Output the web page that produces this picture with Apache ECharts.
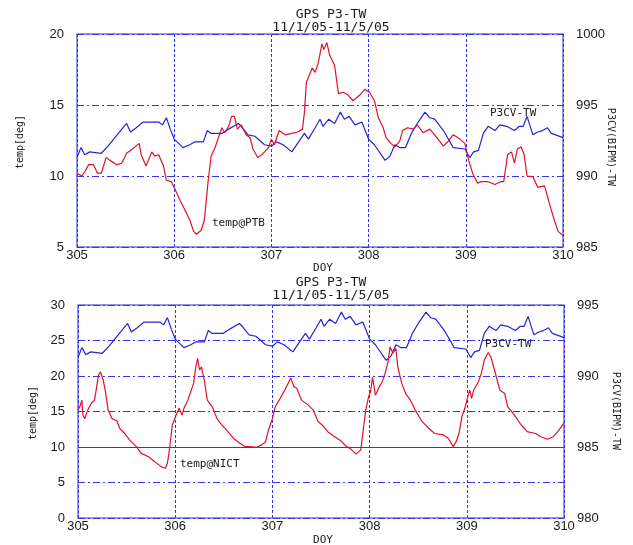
<!DOCTYPE html>
<html>
<head>
<meta charset="utf-8">
<script src="https://cdn.jsdelivr.net/npm/echarts@6/dist/echarts.min.js"></script>
<style>
html,body{margin:0;padding:0;background:#fff;}
#c{width:633px;height:545px;}
</style>
</head>
<body>
<div id="c"></div>
<script>
// ---- data (DOY, value) ----
var xTicks = [305, 306, 307, 308, 309, 310];
var title1 = 'GPS P3-TW';
var title2 = '11/1/05-11/5/05';

// P3CV(BIPM)-TW, same series in both panels
var p3cv = [[305.00,991.3],[305.04,992.0],[305.08,991.5],[305.13,991.7],[305.25,991.6],[305.32,992.1],[305.39,992.7],[305.51,993.7],[305.55,993.1],[305.61,993.4],[305.68,993.8],[305.84,993.8],[305.88,993.6],[305.92,994.1],[305.96,993.3],[306.00,992.6],[306.09,992.0],[306.16,992.2],[306.21,992.4],[306.30,992.4],[306.34,993.2],[306.38,993.0],[306.49,993.0],[306.56,993.3],[306.66,993.7],[306.69,993.5],[306.76,992.9],[306.83,992.8],[306.93,992.2],[307.00,992.1],[307.05,992.4],[307.12,992.2],[307.21,991.7],[307.34,993.0],[307.38,992.6],[307.45,993.4],[307.50,994.0],[307.53,993.5],[307.59,994.0],[307.65,993.7],[307.71,994.5],[307.75,994.0],[307.80,994.2],[307.86,993.6],[307.93,993.8],[308.00,992.6],[308.06,992.2],[308.17,991.1],[308.22,991.4],[308.27,992.2],[308.32,992.0],[308.38,992.0],[308.44,993.0],[308.51,993.8],[308.58,994.5],[308.63,994.1],[308.68,994.0],[308.77,993.2],[308.87,992.0],[308.99,991.9],[309.04,991.3],[309.08,991.7],[309.13,991.8],[309.18,993.0],[309.23,993.5],[309.30,993.2],[309.35,993.6],[309.42,993.5],[309.50,993.2],[309.55,993.5],[309.59,993.5],[309.63,994.2],[309.69,992.9],[309.74,993.1],[309.79,993.2],[309.84,993.4],[309.88,993.0],[310.00,992.7]];

// temp@PTB
var tempPTB = [[305.00,10.2],[305.05,10.0],[305.08,10.3],[305.12,10.8],[305.17,10.8],[305.21,10.2],[305.25,10.2],[305.30,11.3],[305.34,11.1],[305.41,10.8],[305.46,10.9],[305.51,11.6],[305.57,11.9],[305.64,12.3],[305.66,11.5],[305.71,10.7],[305.77,11.7],[305.80,11.4],[305.84,11.5],[305.89,10.7],[305.92,9.7],[305.97,9.6],[306.01,9.05],[306.06,8.3],[306.11,7.6],[306.16,6.9],[306.20,6.1],[306.23,5.9],[306.28,6.2],[306.31,6.9],[306.35,9.7],[306.38,11.4],[306.42,12.0],[306.49,13.4],[306.52,13.05],[306.56,13.5],[306.59,14.2],[306.62,14.2],[306.65,13.3],[306.69,13.6],[306.74,12.9],[306.78,12.7],[306.81,11.9],[306.86,11.3],[306.90,11.5],[306.93,11.7],[306.97,12.0],[307.00,12.6],[307.03,12.2],[307.08,13.2],[307.14,12.9],[307.21,13.0],[307.27,13.1],[307.32,13.3],[307.34,14.5],[307.36,16.6],[307.39,17.1],[307.42,17.6],[307.45,17.3],[307.48,17.9],[307.52,19.3],[307.54,18.9],[307.57,19.4],[307.60,18.5],[307.65,17.8],[307.69,15.8],[307.74,15.9],[307.79,15.7],[307.84,15.3],[307.91,15.7],[307.96,16.1],[308.01,15.9],[308.06,15.3],[308.10,14.1],[308.15,13.4],[308.18,12.7],[308.23,12.3],[308.27,12.05],[308.32,12.45],[308.35,13.2],[308.40,13.4],[308.46,13.3],[308.50,13.6],[308.56,13.05],[308.63,13.3],[308.68,12.9],[308.77,12.1],[308.82,12.45],[308.87,12.9],[308.94,12.6],[308.99,12.3],[309.03,11.1],[309.07,10.2],[309.12,9.5],[309.16,9.6],[309.23,9.6],[309.30,9.4],[309.36,9.6],[309.39,9.6],[309.43,11.5],[309.47,11.7],[309.50,10.9],[309.53,11.9],[309.57,12.05],[309.60,11.5],[309.63,10.0],[309.69,9.95],[309.74,9.2],[309.81,9.3],[309.86,8.05],[309.91,6.9],[309.95,6.1],[310.00,5.8]];

// temp@NICT
var tempNICT = [[305.00,15.2],[305.02,15.7],[305.04,16.6],[305.05,14.5],[305.07,14.0],[305.10,15.2],[305.14,16.2],[305.17,16.6],[305.19,18.3],[305.21,20.1],[305.23,20.6],[305.26,19.4],[305.28,18.0],[305.31,15.2],[305.35,14.0],[305.40,13.7],[305.43,12.6],[305.48,11.9],[305.53,11.0],[305.60,10.05],[305.65,9.1],[305.73,8.6],[305.80,7.8],[305.86,7.2],[305.90,7.0],[305.92,7.7],[305.94,9.6],[305.96,11.9],[305.97,13.1],[306.01,14.5],[306.04,15.45],[306.07,14.5],[306.09,15.45],[306.13,16.6],[306.16,17.8],[306.19,19.0],[306.21,21.1],[306.23,22.5],[306.25,20.85],[306.27,21.3],[306.30,19.4],[306.33,16.6],[306.38,15.7],[306.43,14.0],[306.48,13.1],[306.54,12.2],[306.60,11.2],[306.67,10.5],[306.72,10.05],[306.77,10.05],[306.84,9.95],[306.89,10.3],[306.93,10.75],[306.96,12.4],[307.00,14.0],[307.03,15.7],[307.08,16.85],[307.13,18.1],[307.17,19.2],[307.19,19.7],[307.22,18.5],[307.25,18.3],[307.30,16.6],[307.37,15.9],[307.42,15.2],[307.47,13.6],[307.52,13.0],[307.57,12.16],[307.64,11.45],[307.70,10.9],[307.76,10.1],[307.81,9.67],[307.86,9.0],[307.91,9.6],[307.93,11.9],[307.96,15.2],[307.99,17.1],[308.01,17.8],[308.03,19.8],[308.06,17.3],[308.10,18.5],[308.13,19.2],[308.16,20.4],[308.19,22.0],[308.21,24.1],[308.24,23.2],[308.27,23.9],[308.29,21.3],[308.33,19.0],[308.37,17.55],[308.42,16.6],[308.47,15.2],[308.54,13.6],[308.61,12.6],[308.67,11.9],[308.76,11.7],[308.81,11.2],[308.86,10.05],[308.89,10.75],[308.92,11.9],[308.95,14.3],[308.98,15.45],[309.01,17.1],[309.03,18.0],[309.05,16.85],[309.07,18.0],[309.12,19.2],[309.15,20.4],[309.18,22.25],[309.22,23.3],[309.25,22.6],[309.29,20.6],[309.34,18.0],[309.39,17.55],[309.42,15.7],[309.49,14.5],[309.56,13.1],[309.62,12.16],[309.71,11.9],[309.76,11.45],[309.83,11.1],[309.89,11.45],[309.95,12.4],[310.00,13.4]];

// ---- styling ----
var RED = '#e2102c';
var BLUE = '#2424d6';
var GRIDC = '#3434f0';
var BORDER = '#7070e6';
var TXT = '#1a1a1a';
var MONO = '"DejaVu Sans Mono", monospace';
var TICKF = '"Liberation Sans", Arial, sans-serif';
var plain = function (v) { return String(v); };

function xAxis(gi) {
  return {
    type: 'value', gridIndex: gi, min: xTicks[0], max: xTicks[xTicks.length - 1], interval: 1,
    axisLine: {show: false}, axisTick: {show: false},
    axisLabel: {margin: 2, color: TXT, fontFamily: TICKF, fontSize: 13, formatter: plain},
    splitLine: {show: true, lineStyle: {color: GRIDC, width: 1, type: [3, 2]}}
  };
}
function yLeft(gi, min, max) {
  return {
    type: 'value', gridIndex: gi, position: 'left', min: min, max: max, interval: 5,
    axisLine: {show: false}, axisTick: {show: false},
    axisLabel: {margin: 13, color: TXT, fontFamily: TICKF, fontSize: 13, formatter: plain},
    splitLine: {show: true, lineStyle: {color: GRIDC, width: 1, type: [7, 3, 2, 3]}}
  };
}
function yRight(gi, min, max) {
  return {
    type: 'value', gridIndex: gi, position: 'right', min: min, max: max, interval: 5,
    axisLine: {show: false}, axisTick: {show: false},
    axisLabel: {margin: 13, color: TXT, fontFamily: TICKF, fontSize: 13, formatter: plain},
    splitLine: {show: false}
  };
}
function txt(s, x, y, size, rot, align) {
  return {
    type: 'text', x: x, y: y, rotation: rot || 0, silent: true, z: 100,
    style: {text: s, fill: TXT, font: size + 'px ' + MONO,
            textAlign: align || 'center', textVerticalAlign: 'middle'}
  };
}

var chart = echarts.init(document.getElementById('c'), null, {renderer: 'canvas'});
chart.setOption({
  animation: false,
  backgroundColor: '#ffffff',
  grid: [
    {left: 77, top: 34, width: 486, height: 213, show: true, borderColor: BORDER, borderWidth: 1.5, backgroundColor: '#fff'},
    {left: 78, top: 305, width: 486, height: 213, show: true, borderColor: BORDER, borderWidth: 1.5, backgroundColor: '#fff'}
  ],
  xAxis: [xAxis(0), xAxis(1)],
  yAxis: [yLeft(0, 5, 20), yRight(0, 985, 1000), yLeft(1, 0, 30), yRight(1, 980, 995)],
  series: [
    {type: 'line', xAxisIndex: 0, yAxisIndex: 1, data: p3cv, showSymbol: false,
     lineStyle: {color: BLUE, width: 1.2}, itemStyle: {color: BLUE}},
    {type: 'line', xAxisIndex: 0, yAxisIndex: 0, data: tempPTB, showSymbol: false,
     lineStyle: {color: RED, width: 1.2}, itemStyle: {color: RED}},
    {type: 'line', xAxisIndex: 1, yAxisIndex: 3, data: p3cv, showSymbol: false,
     lineStyle: {color: BLUE, width: 1.2}, itemStyle: {color: BLUE}},
    {type: 'line', xAxisIndex: 1, yAxisIndex: 2, data: tempNICT, showSymbol: false,
     lineStyle: {color: RED, width: 1.2}, itemStyle: {color: RED},
     markLine: {silent: true, symbol: 'none', label: {show: false},
                lineStyle: {color: GRIDC, width: 1, type: 'solid'}, data: [{yAxis: 10}]}}
  ],
  graphic: [
    txt(title1, 331, 15, 13), txt(title2, 331, 28, 13),
    txt(title1, 331, 283, 13), txt(title2, 331, 296, 13),
    txt('DOY', 323, 268, 11), txt('DOY', 323, 540, 11),
    txt('temp[deg]', 20, 142, 10, Math.PI / 2),
    txt('temp[deg]', 33, 413, 10, Math.PI / 2),
    txt('P3CV(BIPM)-TW', 611, 147, 10, -Math.PI / 2),
    txt('P3CV(BIPM)-TW', 616, 411, 10, -Math.PI / 2),
    txt('temp@PTB', 212, 223, 11, 0, 'left'),
    txt('P3CV-TW', 490, 113, 11, 0, 'left'),
    txt('temp@NICT', 180, 464, 11, 0, 'left'),
    txt('P3CV-TW', 485, 344, 11, 0, 'left')
  ]
});
</script>
</body>
</html>
